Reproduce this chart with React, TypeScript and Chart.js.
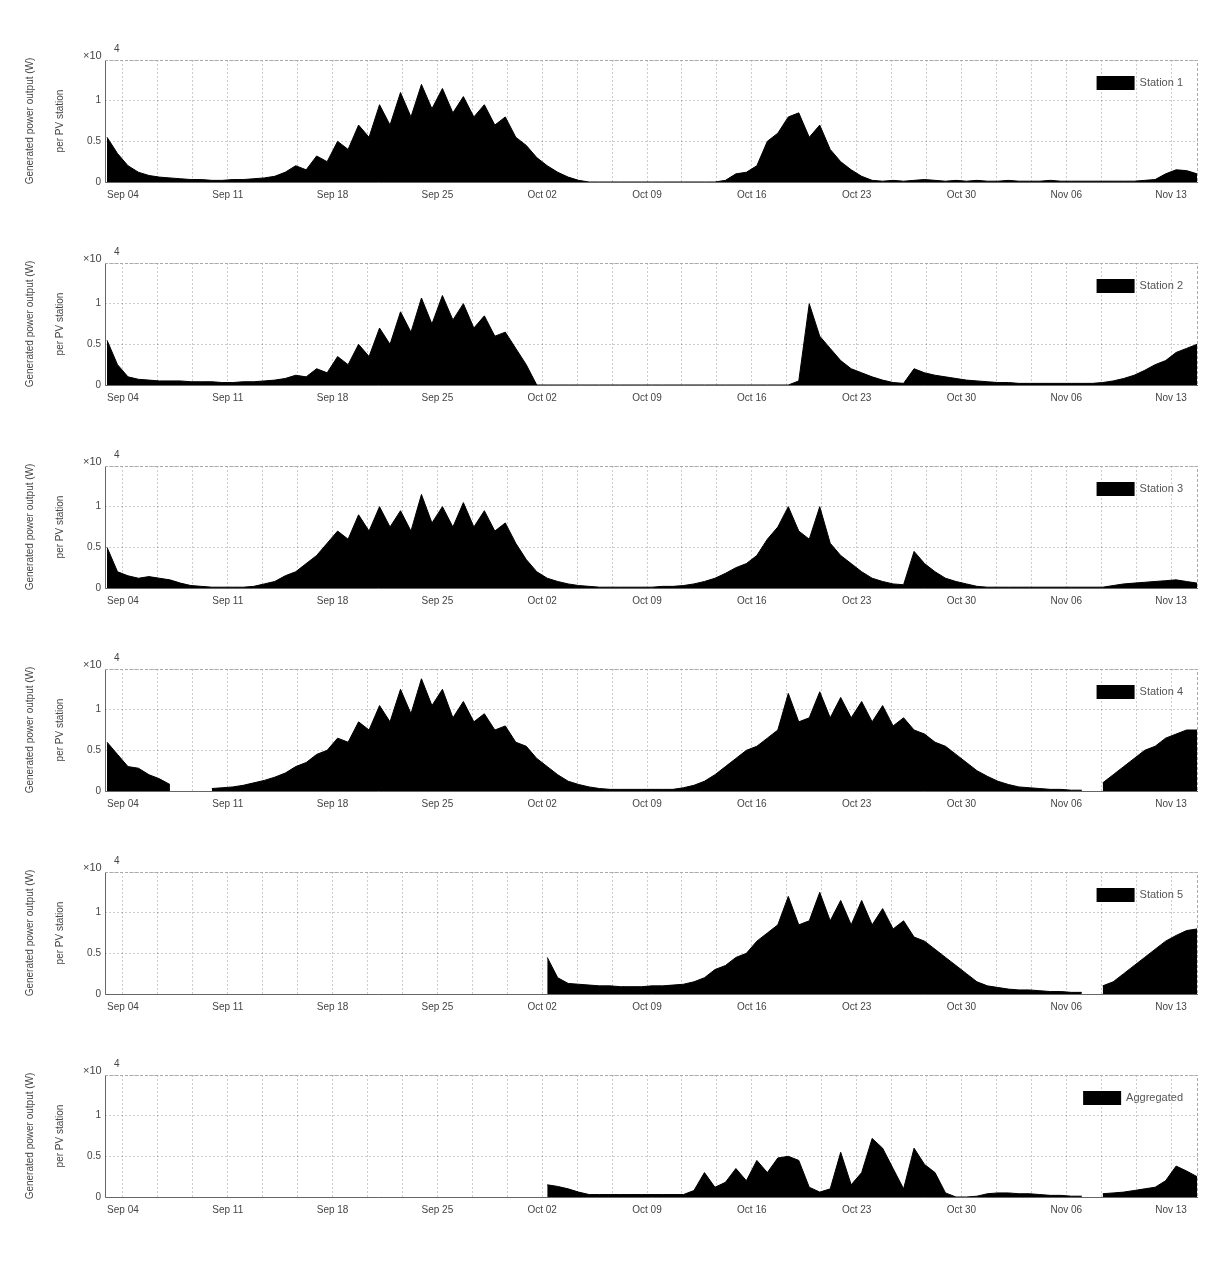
import React, { useEffect, useRef } from "react";
import { Chart, registerables } from "chart.js";

Chart.register(...registerables);

// ---- data ----
const X_TICK_LABELS = ["Sep 04", "Sep 11", "Sep 18", "Sep 25", "Oct 02", "Oct 09", "Oct 16", "Oct 23", "Oct 30", "Nov 06", "Nov 13"];
const Y_TICK_VALUES = [0, 0.5, 1, 1.5];
const Y_TICK_LABELS = ["0", "0.5", "1", ""];
const SERIES_NAMES = ["Station 1", "Station 2", "Station 3", "Station 4", "Station 5", "Aggregated"];
const Y_TITLE = ["Generated power output (W)", "per PV station"];
const EXPONENT = "4";

// samples start at T0 (in tick-label units) and are DT apart
const T0 = -0.152;
const DT = 0.1;

const S1 = [
  0.55, 0.35, 0.2, 0.12, 0.08, 0.06, 0.05, 0.04, 0.03, 0.03,
  0.02, 0.02, 0.03, 0.03, 0.04, 0.05, 0.07, 0.12, 0.2, 0.15,
  0.32, 0.25, 0.5, 0.4, 0.7, 0.55, 0.95, 0.7, 1.1, 0.8,
  1.2, 0.9, 1.15, 0.85, 1.05, 0.8, 0.95, 0.7, 0.8, 0.55,
  0.45, 0.3, 0.2, 0.12, 0.06, 0.02, 0, 0, 0, 0,
  0, 0, 0, 0, 0, 0, 0, 0, 0, 0.02,
  0.1, 0.12, 0.2, 0.5, 0.6, 0.8, 0.85, 0.55, 0.7, 0.4,
  0.25, 0.15, 0.07, 0.02, 0.01, 0.02, 0.01, 0.02, 0.03, 0.02,
  0.01, 0.02, 0.01, 0.02, 0.01, 0.01, 0.02, 0.01, 0.01, 0.01,
  0.02, 0.01, 0.01, 0.01, 0.01, 0.01, 0.01, 0.01, 0.01, 0.02,
  0.03, 0.1, 0.15, 0.14, 0.1,
];
const S2 = [
  0.55, 0.25, 0.1, 0.07, 0.06, 0.05, 0.05, 0.05, 0.04, 0.04,
  0.04, 0.03, 0.03, 0.04, 0.04, 0.05, 0.06, 0.08, 0.12, 0.1,
  0.2, 0.15, 0.35, 0.25, 0.5, 0.35, 0.7, 0.5, 0.9, 0.65,
  1.07, 0.75, 1.1, 0.8, 1.0, 0.7, 0.85, 0.6, 0.65, 0.45,
  0.25, 0, 0, 0, 0, 0, 0, 0, 0, 0,
  0, 0, 0, 0, 0, 0, 0, 0, 0, 0,
  0, 0, 0, 0, 0, 0, 0.05, 1.0, 0.6, 0.45,
  0.3, 0.2, 0.15, 0.1, 0.06, 0.03, 0.02, 0.2, 0.15, 0.12,
  0.1, 0.08, 0.06, 0.05, 0.04, 0.03, 0.03, 0.02, 0.02, 0.02,
  0.02, 0.02, 0.02, 0.02, 0.02, 0.03, 0.05, 0.08, 0.12, 0.18,
  0.25, 0.3, 0.4, 0.45, 0.5,
];
const S3 = [
  0.5, 0.2, 0.15, 0.12, 0.14, 0.12, 0.1, 0.06, 0.03, 0.02,
  0.01, 0.01, 0.01, 0.01, 0.02, 0.05, 0.08, 0.15, 0.2, 0.3,
  0.4, 0.55, 0.7, 0.6, 0.9, 0.7, 1.0, 0.75, 0.95, 0.7,
  1.15, 0.8, 1.0, 0.75, 1.05, 0.75, 0.95, 0.7, 0.8, 0.55,
  0.35, 0.2, 0.12, 0.08, 0.05, 0.03, 0.02, 0.01, 0.01, 0.01,
  0.01, 0.01, 0.01, 0.02, 0.02, 0.03, 0.05, 0.08, 0.12, 0.18,
  0.25, 0.3, 0.4, 0.6, 0.75, 1.0, 0.7, 0.6, 1.0, 0.55,
  0.4, 0.3, 0.2, 0.12, 0.08, 0.05, 0.04, 0.45, 0.3, 0.2,
  0.12, 0.08, 0.05, 0.02, 0.01, 0.01, 0.01, 0.01, 0.01, 0.01,
  0.01, 0.01, 0.01, 0.01, 0.01, 0.01, 0.03, 0.05, 0.06, 0.07,
  0.08, 0.09, 0.1, 0.08, 0.06,
];
const S4 = [
  0.6, 0.45, 0.3, 0.28, 0.2, 0.15, 0.08, null, null, null,
  0.03, 0.04, 0.05, 0.07, 0.1, 0.13, 0.17, 0.22, 0.3, 0.35,
  0.45, 0.5, 0.65, 0.6, 0.85, 0.75, 1.05, 0.85, 1.25, 0.95,
  1.38, 1.05, 1.25, 0.9, 1.1, 0.85, 0.95, 0.75, 0.8, 0.6,
  0.55, 0.4, 0.3, 0.2, 0.12, 0.08, 0.05, 0.03, 0.02, 0.02,
  0.02, 0.02, 0.02, 0.02, 0.02, 0.04, 0.07, 0.12, 0.2, 0.3,
  0.4, 0.5, 0.55, 0.65, 0.75, 1.2, 0.85, 0.9, 1.22, 0.9,
  1.15, 0.9, 1.1, 0.85, 1.05, 0.8, 0.9, 0.75, 0.7, 0.6,
  0.55, 0.45, 0.35, 0.25, 0.18, 0.12, 0.08, 0.05, 0.04, 0.03,
  0.02, 0.02, 0.01, 0.01, null, 0.1, 0.2, 0.3, 0.4, 0.5,
  0.55, 0.65, 0.7, 0.75, 0.75,
];
const S5 = [
  null, null, null, null, null, null, null, null, null, null,
  null, null, null, null, null, null, null, null, null, null,
  null, null, null, null, null, null, null, null, null, null,
  null, null, null, null, null, null, null, null, null, null,
  null, null, 0.45, 0.2, 0.13, 0.12, 0.11, 0.1, 0.1, 0.09,
  0.09, 0.09, 0.1, 0.1, 0.11, 0.12, 0.15, 0.2, 0.3, 0.35,
  0.45, 0.5, 0.65, 0.75, 0.85, 1.2, 0.85, 0.9, 1.25, 0.9,
  1.15, 0.85, 1.15, 0.85, 1.05, 0.8, 0.9, 0.7, 0.65, 0.55,
  0.45, 0.35, 0.25, 0.15, 0.1, 0.08, 0.06, 0.05, 0.05, 0.04,
  0.03, 0.03, 0.02, 0.02, null, 0.1, 0.15, 0.25, 0.35, 0.45,
  0.55, 0.65, 0.72, 0.78, 0.8,
];
const S6 = [
  null, null, null, null, null, null, null, null, null, null,
  null, null, null, null, null, null, null, null, null, null,
  null, null, null, null, null, null, null, null, null, null,
  null, null, null, null, null, null, null, null, null, null,
  null, null, 0.15, 0.13, 0.1, 0.06, 0.03, 0.03, 0.03, 0.03,
  0.03, 0.03, 0.03, 0.03, 0.03, 0.03, 0.08, 0.3, 0.12, 0.18,
  0.35, 0.2, 0.45, 0.3, 0.48, 0.5, 0.45, 0.12, 0.06, 0.1,
  0.55, 0.15, 0.3, 0.72, 0.6, 0.35, 0.1, 0.6, 0.4, 0.3,
  0.05, 0, 0, 0.01, 0.04, 0.05, 0.05, 0.04, 0.04, 0.03,
  0.02, 0.02, 0.01, 0.01, null, 0.04, 0.05, 0.06, 0.08, 0.1,
  0.12, 0.2, 0.38, 0.32, 0.25,
];
const ALL_SERIES: (number | null)[][] = [S1, S2, S3, S4, S5, S6];

// ---- layout constants ----
const CANVAS_W = 1191;
const CANVAS_H = 203;
const X_MIN = -0.1714;
const X_MAX = 10.257;
const FONT = "'Liberation Sans', Arial, sans-serif";

const GRID_VALUES: number[] = [];
for (let k = 0; k <= 30; k++) GRID_VALUES.push(k / 3);

function makeDecorPlugin(name: string) {
  return {
    id: "decor",
    afterDatasetsDraw(chart: any) {
      const { ctx, chartArea } = chart;
      const { left, top, right, bottom } = chartArea;
      ctx.save();
      // frame
      ctx.strokeStyle = "#666";
      ctx.lineWidth = 1;
      ctx.setLineDash([]);
      ctx.beginPath();
      ctx.moveTo(left + 0.5, top);
      ctx.lineTo(left + 0.5, bottom + 0.5);
      ctx.lineTo(right, bottom + 0.5);
      ctx.stroke();
      ctx.strokeStyle = "#aaa";
      ctx.setLineDash([3, 2]);
      ctx.beginPath();
      ctx.moveTo(left, top + 0.5);
      ctx.lineTo(right - 0.5, top + 0.5);
      ctx.lineTo(right - 0.5, bottom);
      ctx.stroke();
      ctx.setLineDash([]);

      // exponent label
      ctx.fillStyle = "#444";
      ctx.textBaseline = "alphabetic";
      ctx.textAlign = "left";
      ctx.font = `11px ${FONT}`;
      ctx.fillText("×10", left - 22, top - 1);
      ctx.font = `10px ${FONT}`;
      ctx.fillText(EXPONENT, left + 9, top - 8);

      // y title (two lines)
      ctx.font = `10px ${FONT}`;
      ctx.textAlign = "center";
      ctx.textBaseline = "middle";
      const cy = (top + bottom) / 2;
      ctx.save();
      ctx.translate(22, cy);
      ctx.rotate(-Math.PI / 2);
      ctx.fillText(Y_TITLE[0], 0, 0);
      ctx.restore();
      ctx.save();
      ctx.translate(52, cy);
      ctx.rotate(-Math.PI / 2);
      ctx.fillText(Y_TITLE[1], 0, 0);
      ctx.restore();

      // legend
      ctx.font = `11px ${FONT}`;
      ctx.textAlign = "left";
      ctx.textBaseline = "middle";
      const tw = ctx.measureText(name).width;
      const textRight = right - 15;
      const tx = textRight - tw;
      const by = top + 16;
      ctx.fillStyle = "#000";
      ctx.fillRect(tx - 43, by, 38, 14);
      ctx.fillStyle = "#555";
      ctx.fillText(name, tx, by + 7);
      ctx.restore();
    },
  };
}

function Panel({ index }: { index: number }) {
  const ref = useRef<HTMLCanvasElement | null>(null);
  useEffect(() => {
    if (!ref.current) return;
    const values = ALL_SERIES[index];
    const data = values.map((v, i) => ({ x: T0 + i * DT, y: v }));
    const chart = new Chart(ref.current, {
      type: "line",
      data: {
        datasets: [
          {
            label: SERIES_NAMES[index],
            data: data as any,
            borderColor: "#000",
            backgroundColor: "#000",
            borderWidth: 1,
            pointRadius: 0,
            fill: "origin",
            tension: 0,
            spanGaps: false,
          },
        ],
      },
      options: {
        animation: false,
        responsive: false,
        layout: { padding: { top: 52, left: 0, right: 1, bottom: 0 } },
        plugins: { legend: { display: false }, tooltip: { enabled: false } },
        scales: {
          x: {
            type: "linear",
            min: X_MIN,
            max: X_MAX,
            afterBuildTicks: (axis: any) => {
              axis.ticks = GRID_VALUES.map((v) => ({ value: v }));
            },
            afterFit: (axis: any) => {
              axis.height = 29;
            },
            ticks: {
              autoSkip: false,
              maxRotation: 0,
              padding: 7,
              color: "#444",
              font: { size: 10, family: FONT },
              callback: (v: any) => {
                const r = Math.round(Number(v));
                return Math.abs(Number(v) - r) < 1e-6 ? X_TICK_LABELS[r] : "";
              },
            },
            grid: { color: "rgba(0,0,0,0.2)", lineWidth: 1, drawTicks: false },
            border: { display: false, dash: [2, 2] },
          },
          y: {
            min: 0,
            max: 1.5,
            afterBuildTicks: (axis: any) => {
              axis.ticks = Y_TICK_VALUES.map((v) => ({ value: v }));
            },
            afterFit: (axis: any) => {
              axis.width = 97;
            },
            ticks: {
              padding: 4,
              color: "#444",
              font: { size: 10, family: FONT },
              callback: (v: any) => {
                const i = Y_TICK_VALUES.indexOf(Number(v));
                return i >= 0 ? Y_TICK_LABELS[i] : "";
              },
            },
            grid: { color: "rgba(0,0,0,0.2)", lineWidth: 1, drawTicks: false },
            border: { display: false, dash: [2, 2] },
          },
        },
      },
      plugins: [makeDecorPlugin(SERIES_NAMES[index])],
    });
    return () => chart.destroy();
  }, [index]);
  return (
    <div style={{ position: "absolute", left: 0, top: index * CANVAS_H, width: CANVAS_W, height: CANVAS_H }}>
      <canvas ref={ref} width={CANVAS_W} height={CANVAS_H} style={{ display: "block" }} />
    </div>
  );
}

export default function App() {
  return (
    <div style={{ position: "relative", width: CANVAS_W, height: CANVAS_H * 6, background: "#fff" }}>
      {ALL_SERIES.map((_, i) => (
        <Panel key={i} index={i} />
      ))}
    </div>
  );
}
